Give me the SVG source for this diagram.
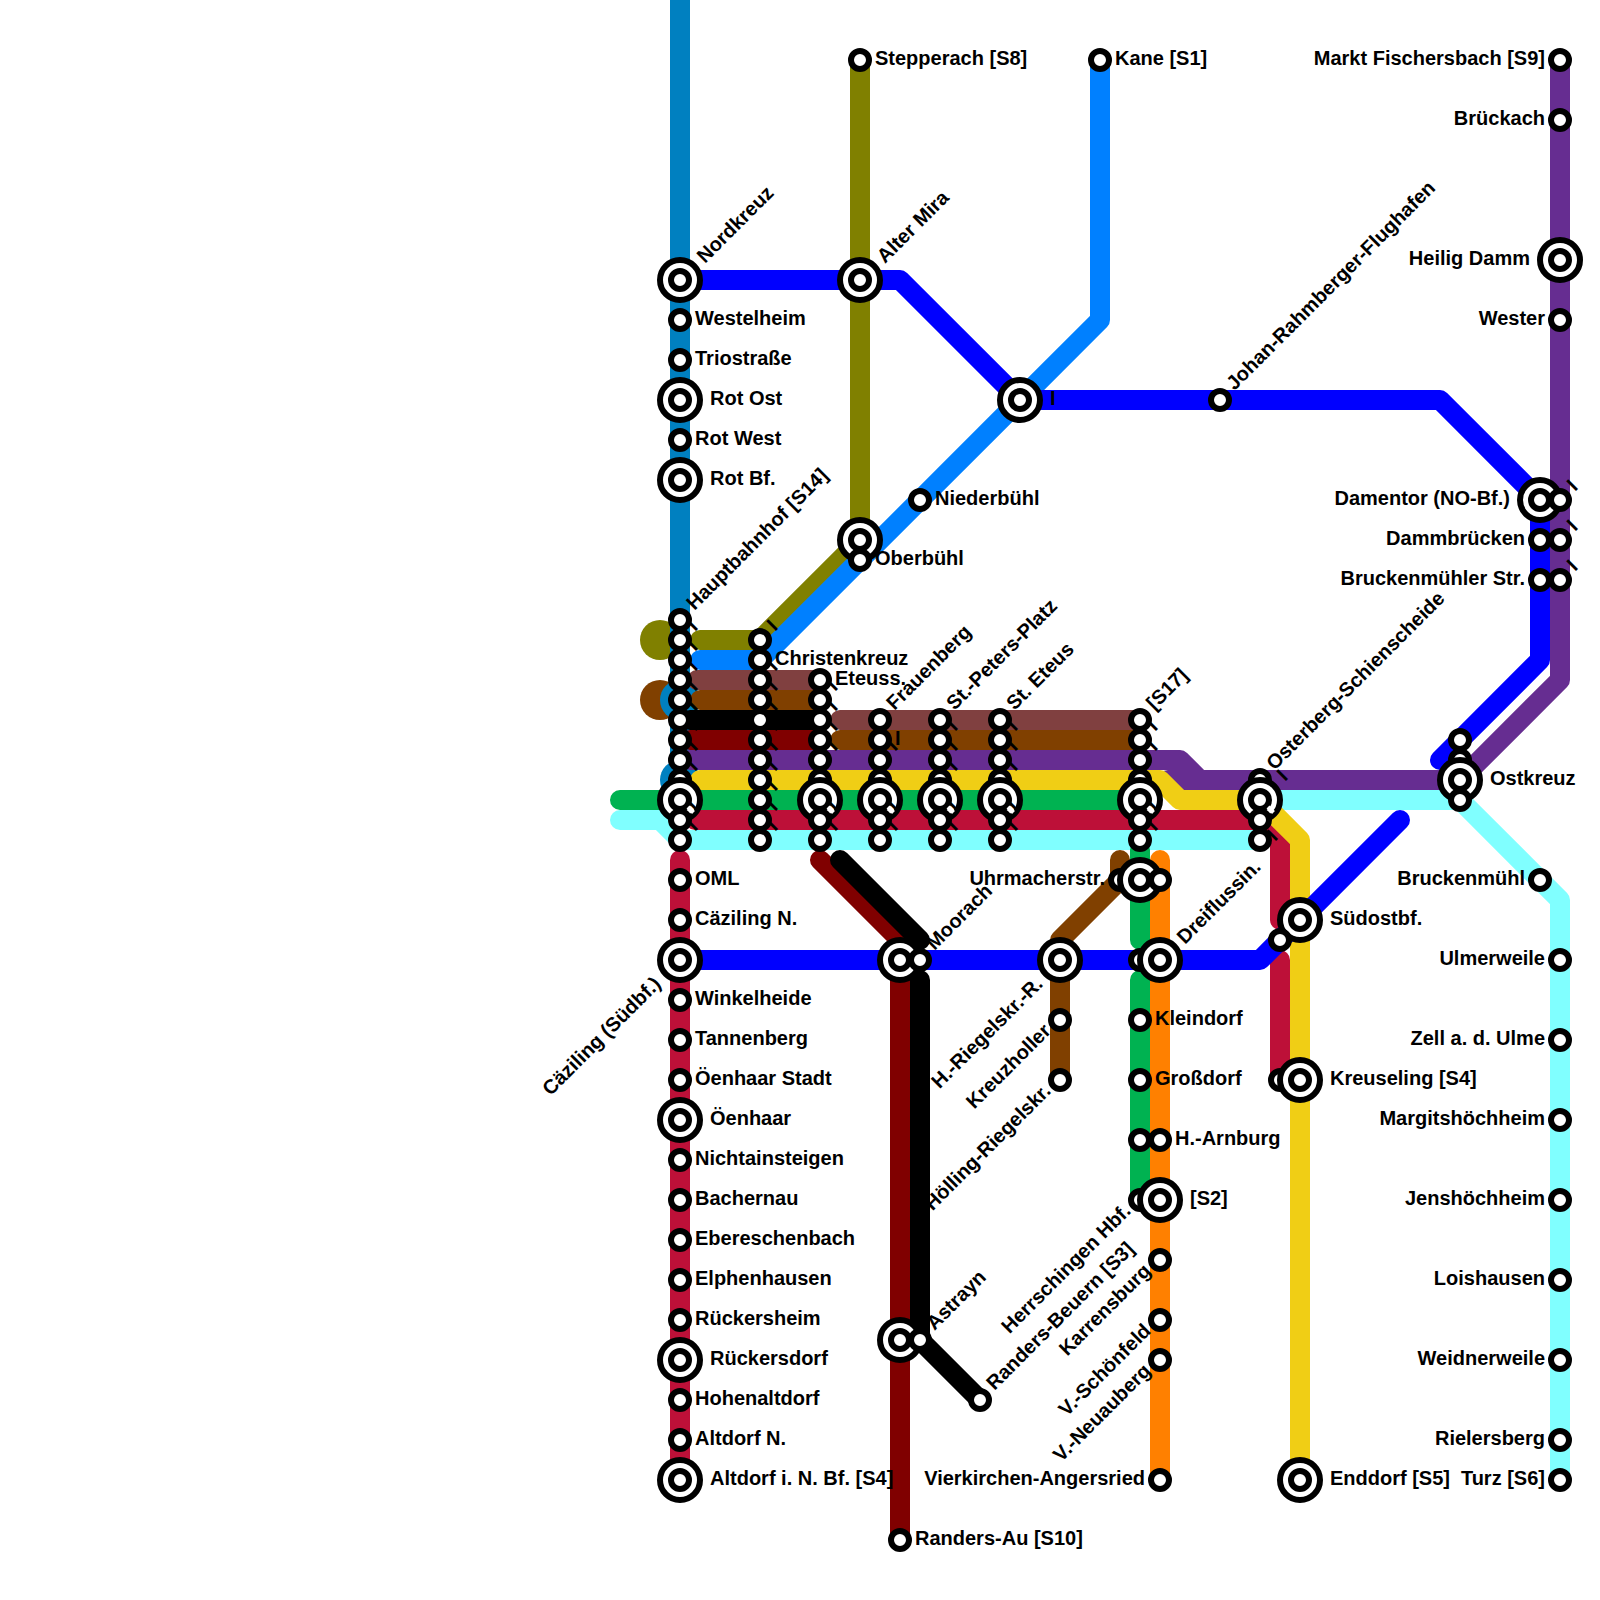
<svg xmlns="http://www.w3.org/2000/svg" width="1600" height="1600" viewBox="0 0 1600 1600">
<style>
text{font-family:"Liberation Sans",Arial,sans-serif;font-weight:bold;font-size:20px;fill:#000}
.e{text-anchor:end}
.s{fill:#fff;stroke:#000;stroke-width:6}
.n{fill:none;stroke:#fff;stroke-width:4}
#lines path{fill:none;stroke-width:20;stroke-linecap:round;stroke-linejoin:round}
</style>
<rect width="1600" height="1600" fill="#fff"/>
<g id="lines">
<circle cx="660" cy="640" r="20" fill="#808000"/>
<circle cx="660" cy="700" r="20" fill="#804000"/>
<path stroke="#0080c0" d="M680-20V780"/>
<circle cx="680" cy="700" r="20" fill="#0080c0"/>
<circle cx="680" cy="780" r="20" fill="#0080c0"/>
<path stroke="#808000" d="M700 640H760L860 540V60"/>
<path stroke="#0080ff" d="M700 660H760L1100 320V60"/>
<path stroke="#804040" d="M697 680H820M840 720H1140"/>
<path stroke="#804000" d="M700 700H820M840 740H1140"/>
<path stroke="#000" d="M690 720H820"/>
<path stroke="#800000" d="M690 740H820"/>
<path stroke="#800000" d="M820 860L900 940V1540"/>
<path stroke="#000" d="M840 860L920 940M920 980V1340L980 1400"/>
<path stroke="#bd1038" d="M680 860V1480"/>
<path stroke="#662d91" d="M690 760H1180L1200 780H1440M1168 780H1200M1560 60V680L1460 780"/>
<path stroke="#bd1038" d="M695 820H1260L1280 840V920M1280 960V1080"/>
<path stroke="#80ffff" d="M620 820H660L680 840H1260M1260 800H1460L1560 900V1480"/>
<path stroke="#00b251" d="M620 800H1140M1140 850V940M1140 980V1200"/>
<path stroke="#f0ce15" d="M700 780H1160L1180 800H1260L1300 840V1480"/>
<path stroke="#ff8000" d="M1160 860V1480"/>
<path stroke="#804000" d="M1120 860V880L1060 940V1080"/>
<path stroke="#0000ff" d="M680 280H900L1020 400H1440L1540 500V660L1440 760"/>
<path stroke="#0000ff" d="M680 960H1260L1400 820"/>
</g>
<g id="nordkreuz"><circle class="s" cx="680" cy="280" r="20"/><circle class="s" cx="680" cy="280" r="9"/><text transform="translate(705,264) rotate(-45)">Nordkreuz</text></g>
<g id="westelheim"><circle class="s" cx="680" cy="320" r="9"/><text x="695" y="325">Westelheim</text></g>
<g id="triostrasse"><circle class="s" cx="680" cy="360" r="9"/><text x="695" y="365">Triostraße</text></g>
<g id="rot-ost"><circle class="s" cx="680" cy="400" r="20"/><circle class="s" cx="680" cy="400" r="9"/><text x="710" y="405">Rot Ost</text></g>
<g id="rot-west"><circle class="s" cx="680" cy="440" r="9"/><text x="695" y="445">Rot West</text></g>
<g id="rot-bf"><circle class="s" cx="680" cy="480" r="20"/><circle class="s" cx="680" cy="480" r="9"/><text x="710" y="485">Rot Bf.</text></g>

<g id="a840"><circle class="s" cx="680" cy="840" r="9"/><text transform="translate(695,832) rotate(-45)">I</text></g>
<g id="a780"><circle class="s" cx="680" cy="780" r="9"/><text transform="translate(695,772) rotate(-45)">I</text></g>
<g id="a800"><circle class="s" cx="680" cy="800" r="20"/><circle class="s" cx="680" cy="800" r="9"/><path class="n" d="M688 807L693.5 812.5"/></g>
<g id="a820"><circle class="s" cx="680" cy="820" r="9"/><text transform="translate(695,812) rotate(-45)">I</text></g>
<g id="a760"><circle class="s" cx="680" cy="760" r="9"/><text transform="translate(695,752) rotate(-45)">I</text></g>
<g id="a740"><circle class="s" cx="680" cy="740" r="9"/><text transform="translate(695,732) rotate(-45)">I</text></g>
<g id="a720"><circle class="s" cx="680" cy="720" r="9"/><text transform="translate(695,712) rotate(-45)">I</text></g>
<g id="a700"><circle class="s" cx="680" cy="700" r="9"/><text transform="translate(695,692) rotate(-45)">I</text></g>
<g id="a680"><circle class="s" cx="680" cy="680" r="9"/><text transform="translate(695,672) rotate(-45)">I</text></g>
<g id="a660"><circle class="s" cx="680" cy="660" r="9"/><text transform="translate(695,652) rotate(-45)">I</text></g>
<g id="a640"><circle class="s" cx="680" cy="640" r="9"/><text transform="translate(695,632) rotate(-45)">I</text></g>
<g id="hauptbahnhof"><circle class="s" cx="680" cy="620" r="9"/><text transform="translate(694.5,611) rotate(-45)">Hauptbahnhof [S14]</text></g>

<g id="oml"><circle class="s" cx="680" cy="880" r="9"/><text x="695" y="885">OML</text></g>
<g id="caeziling-n"><circle class="s" cx="680" cy="920" r="9"/><text x="695" y="925">Cäziling N.</text></g>
<g id="caeziling-suedbf"><circle class="s" cx="680" cy="960" r="20"/><circle class="s" cx="680" cy="960" r="9"/><text class="e" transform="translate(662,985) rotate(-45)">Cäziling (Südbf.)</text></g>
<g id="winkelheide"><circle class="s" cx="680" cy="1000" r="9"/><text x="695" y="1005">Winkelheide</text></g>
<g id="tannenberg"><circle class="s" cx="680" cy="1040" r="9"/><text x="695" y="1045">Tannenberg</text></g>
<g id="oeenhaar-stadt"><circle class="s" cx="680" cy="1080" r="9"/><text x="695" y="1085">Öenhaar Stadt</text></g>
<g id="oeenhaar"><circle class="s" cx="680" cy="1120" r="20"/><circle class="s" cx="680" cy="1120" r="9"/><text x="710" y="1125">Öenhaar</text></g>
<g id="nichtainsteigen"><circle class="s" cx="680" cy="1160" r="9"/><text x="695" y="1165">Nichtainsteigen</text></g>
<g id="bachernau"><circle class="s" cx="680" cy="1200" r="9"/><text x="695" y="1205">Bachernau</text></g>
<g id="ebereschenbach"><circle class="s" cx="680" cy="1240" r="9"/><text x="695" y="1245">Ebereschenbach</text></g>
<g id="elphenhausen"><circle class="s" cx="680" cy="1280" r="9"/><text x="695" y="1285">Elphenhausen</text></g>
<g id="rueckersheim"><circle class="s" cx="680" cy="1320" r="9"/><text x="695" y="1325">Rückersheim</text></g>
<g id="rueckersdorf"><circle class="s" cx="680" cy="1360" r="20"/><circle class="s" cx="680" cy="1360" r="9"/><text x="710" y="1365">Rückersdorf</text></g>
<g id="hohenaltdorf"><circle class="s" cx="680" cy="1400" r="9"/><text x="695" y="1405">Hohenaltdorf</text></g>
<g id="altdorf-n"><circle class="s" cx="680" cy="1440" r="9"/><text x="695" y="1445">Altdorf N.</text></g>
<g id="altdorf-bf"><circle class="s" cx="680" cy="1480" r="20"/><circle class="s" cx="680" cy="1480" r="9"/><text x="710" y="1485">Altdorf i. N. Bf. [S4]</text></g>

<g id="b840"><circle class="s" cx="760" cy="840" r="9"/><text transform="translate(775,832) rotate(-45)">I</text></g>
<g id="b820"><circle class="s" cx="760" cy="820" r="9"/><text transform="translate(775,812) rotate(-45)">I</text></g>
<g id="b800"><circle class="s" cx="760" cy="800" r="9"/><text transform="translate(775,792) rotate(-45)">I</text></g>
<g id="b780"><circle class="s" cx="760" cy="780" r="9"/><text transform="translate(775,772) rotate(-45)">I</text></g>
<g id="b760"><circle class="s" cx="760" cy="760" r="9"/><text transform="translate(775,752) rotate(-45)">I</text></g>
<g id="b740"><circle class="s" cx="760" cy="740" r="9"/><text transform="translate(775,732) rotate(-45)">I</text></g>
<g id="b720"><circle class="s" cx="760" cy="720" r="9"/><text transform="translate(775,712) rotate(-45)">I</text></g>
<g id="b700"><circle class="s" cx="760" cy="700" r="9"/><text transform="translate(775,692) rotate(-45)">I</text></g>
<g id="b680"><circle class="s" cx="760" cy="680" r="9"/><text transform="translate(775,672) rotate(-45)">I</text></g>
<g id="christenkreuz"><circle class="s" cx="760" cy="660" r="9"/><text x="775" y="665">Christenkreuz</text></g>
<g id="b640"><circle class="s" cx="760" cy="640" r="9"/><text transform="translate(775,632) rotate(-45)">I</text></g>

<g id="c840"><circle class="s" cx="820" cy="840" r="9"/><text transform="translate(835,832) rotate(-45)">I</text></g>
<g id="c780"><circle class="s" cx="820" cy="780" r="9"/></g>
<g id="c800"><circle class="s" cx="820" cy="800" r="20"/><circle class="s" cx="820" cy="800" r="9"/><path class="n" d="M828 807L833.5 812.5"/></g>
<g id="c820"><circle class="s" cx="820" cy="820" r="9"/><text transform="translate(835,812) rotate(-45)">I</text></g>
<g id="c760"><circle class="s" cx="820" cy="760" r="9"/><text transform="translate(835,752) rotate(-45)">I</text></g>
<g id="c740"><circle class="s" cx="820" cy="740" r="9"/><text transform="translate(835,732) rotate(-45)">I</text></g>
<g id="c720"><circle class="s" cx="820" cy="720" r="9"/><text transform="translate(835,712) rotate(-45)">I</text></g>
<g id="c700"><circle class="s" cx="820" cy="700" r="9"/><text transform="translate(835,692) rotate(-45)">I</text></g>
<g id="eteuss"><circle class="s" cx="820" cy="680" r="9"/><text x="835" y="685">Eteuss.</text></g>

<g id="d840"><circle class="s" cx="880" cy="840" r="9"/><text transform="translate(895,832) rotate(-45)">I</text></g>
<g id="d780"><circle class="s" cx="880" cy="780" r="9"/></g>
<g id="d800"><circle class="s" cx="880" cy="800" r="20"/><circle class="s" cx="880" cy="800" r="9"/><path class="n" d="M888 807L893.5 812.5"/></g>
<g id="d820"><circle class="s" cx="880" cy="820" r="9"/><text transform="translate(895,812) rotate(-45)">I</text></g>
<g id="d760"><circle class="s" cx="880" cy="760" r="9"/><text transform="translate(895,752) rotate(-45)">I</text></g>
<g id="d740"><circle class="s" cx="880" cy="740" r="9"/><text x="895" y="745">I</text></g>
<g id="frauenberg"><circle class="s" cx="880" cy="720" r="9"/><text transform="translate(894.5,711) rotate(-45)">Frauenberg</text></g>

<g id="e840"><circle class="s" cx="940" cy="840" r="9"/><text transform="translate(955,832) rotate(-45)">I</text></g>
<g id="e780"><circle class="s" cx="940" cy="780" r="9"/><text transform="translate(955,772) rotate(-45)">I</text></g>
<g id="e800"><circle class="s" cx="940" cy="800" r="20"/><circle class="s" cx="940" cy="800" r="9"/><path class="n" d="M948 807L953.5 812.5"/></g>
<g id="e820"><circle class="s" cx="940" cy="820" r="9"/><text transform="translate(955,812) rotate(-45)">I</text></g>
<g id="e760"><circle class="s" cx="940" cy="760" r="9"/><text transform="translate(955,752) rotate(-45)">I</text></g>
<g id="e740"><circle class="s" cx="940" cy="740" r="9"/><text transform="translate(955,732) rotate(-45)">I</text></g>
<g id="st-peters-platz"><circle class="s" cx="940" cy="720" r="9"/><text transform="translate(954.5,711) rotate(-45)">St.-Peters-Platz</text></g>

<g id="f840"><circle class="s" cx="1000" cy="840" r="9"/><text transform="translate(1015,832) rotate(-45)">I</text></g>
<g id="f780"><circle class="s" cx="1000" cy="780" r="9"/><text transform="translate(1015,772) rotate(-45)">I</text></g>
<g id="f800"><circle class="s" cx="1000" cy="800" r="20"/><circle class="s" cx="1000" cy="800" r="9"/><path class="n" d="M1008 807L1013.5 812.5"/></g>
<g id="f820"><circle class="s" cx="1000" cy="820" r="9"/><text transform="translate(1015,812) rotate(-45)">I</text></g>
<g id="f760"><circle class="s" cx="1000" cy="760" r="9"/><text transform="translate(1015,752) rotate(-45)">I</text></g>
<g id="f740"><circle class="s" cx="1000" cy="740" r="9"/><text transform="translate(1015,732) rotate(-45)">I</text></g>
<g id="st-eteus"><circle class="s" cx="1000" cy="720" r="9"/><text transform="translate(1014.5,711) rotate(-45)">St. Eteus</text></g>

<g id="g840"><circle class="s" cx="1140" cy="840" r="9"/><text transform="translate(1155,832) rotate(-45)">I</text></g>
<g id="g780"><circle class="s" cx="1140" cy="780" r="9"/></g>
<g id="g800"><circle class="s" cx="1140" cy="800" r="20"/><circle class="s" cx="1140" cy="800" r="9"/><path class="n" d="M1148 807L1153.5 812.5"/></g>
<g id="g820"><circle class="s" cx="1140" cy="820" r="9"/><text transform="translate(1155,812) rotate(-45)">I</text></g>
<g id="g760"><circle class="s" cx="1140" cy="760" r="9"/><text transform="translate(1155,752) rotate(-45)">I</text></g>
<g id="g740"><circle class="s" cx="1140" cy="740" r="9"/><text transform="translate(1155,732) rotate(-45)">I</text></g>
<g id="s17"><circle class="s" cx="1140" cy="720" r="9"/><text transform="translate(1154.5,711) rotate(-45)">[S17]</text></g>

<g id="h840"><circle class="s" cx="1260" cy="840" r="9"/></g>
<g id="osterberg"><circle class="s" cx="1260" cy="780" r="9"/><text transform="translate(1274.5,771) rotate(-45)">Osterberg-Schienscheide</text></g>
<g id="h800"><circle class="s" cx="1260" cy="800" r="20"/><circle class="s" cx="1260" cy="800" r="9"/><path class="n" d="M1268 807L1273.5 812.5"/><text transform="translate(1285,782) rotate(-45)">I</text></g>
<g id="h820"><circle class="s" cx="1260" cy="820" r="9"/><text transform="translate(1275,842) rotate(-45)">I</text></g>

<g id="uhrmacherstr"><circle class="s" cx="1120" cy="880" r="9"/><circle class="s" cx="1140" cy="880" r="20"/><circle class="s" cx="1140" cy="880" r="9"/><text class="e" x="1105" y="885">Uhrmacherstr.</text></g>
<g id="uhr-b"><circle class="s" cx="1160" cy="880" r="9"/></g>
<g id="moorach-bf"><circle class="s" cx="900" cy="960" r="20"/><circle class="s" cx="900" cy="960" r="9"/></g>
<g id="moorach"><circle class="s" cx="920" cy="960" r="9"/><text transform="translate(934.5,951) rotate(-45)">Moorach</text></g>
<g id="h-riegelskr-r"><circle class="s" cx="1060" cy="960" r="20"/><circle class="s" cx="1060" cy="960" r="9"/><text class="e" transform="translate(1044,985) rotate(-45)">H.-Riegelskr.-R.</text></g>
<g id="kreuzholler"><circle class="s" cx="1060" cy="1020" r="9"/><text class="e" transform="translate(1052,1032) rotate(-45)">Kreuzholler</text></g>
<g id="hoelling"><circle class="s" cx="1060" cy="1080" r="9"/><text class="e" transform="translate(1052,1092) rotate(-45)">Hölling-Riegelskr.</text></g>
<g id="i960"><circle class="s" cx="1140" cy="960" r="9"/></g>
<g id="dreiflussin"><circle class="s" cx="1160" cy="960" r="20"/><circle class="s" cx="1160" cy="960" r="9"/><text transform="translate(1185,945) rotate(-45)">Dreiflussin.</text></g>
<g id="kleindorf"><circle class="s" cx="1140" cy="1020" r="9"/><text x="1155" y="1025">Kleindorf</text></g>
<g id="grossdorf"><circle class="s" cx="1140" cy="1080" r="9"/><text x="1155" y="1085">Großdorf</text></g>
<g id="i1140"><circle class="s" cx="1140" cy="1140" r="9"/></g>
<g id="h-arnburg"><circle class="s" cx="1160" cy="1140" r="9"/><text x="1175" y="1145">H.-Arnburg</text></g>
<g id="herrschingen"><circle class="s" cx="1140" cy="1200" r="9"/><text class="e" transform="translate(1132,1212) rotate(-45)">Herrschingen Hbf.</text></g>
<g id="s2"><circle class="s" cx="1160" cy="1200" r="20"/><circle class="s" cx="1160" cy="1200" r="9"/><text x="1190" y="1205">[S2]</text></g>
<g id="karrensburg"><circle class="s" cx="1160" cy="1260" r="9"/><text class="e" transform="translate(1152,1272) rotate(-45)">Karrensburg</text></g>
<g id="schoenfeld"><circle class="s" cx="1160" cy="1320" r="9"/><text class="e" transform="translate(1152,1332) rotate(-45)">V.-Schönfeld</text></g>
<g id="neuauberg"><circle class="s" cx="1160" cy="1360" r="9"/><text class="e" transform="translate(1152,1372) rotate(-45)">V.-Neuauberg</text></g>
<g id="vierkirchen"><circle class="s" cx="1160" cy="1480" r="9"/><text class="e" x="1145" y="1485">Vierkirchen-Angersried</text></g>
<g id="astrayn-bf"><circle class="s" cx="900" cy="1340" r="20"/><circle class="s" cx="900" cy="1340" r="9"/></g>
<g id="astrayn"><circle class="s" cx="920" cy="1340" r="9"/><text transform="translate(934.5,1331) rotate(-45)">Astrayn</text></g>
<g id="randers-beuern"><circle class="s" cx="980" cy="1400" r="9"/><text transform="translate(994.5,1391) rotate(-45)">Randers-Beuern [S3]</text></g>
<g id="randers-au"><circle class="s" cx="900" cy="1540" r="9"/><text x="915" y="1545">Randers-Au [S10]</text></g>

<g id="stepperach"><circle class="s" cx="860" cy="60" r="9"/><text x="875" y="65">Stepperach [S8]</text></g>
<g id="kane"><circle class="s" cx="1100" cy="60" r="9"/><text x="1115" y="65">Kane [S1]</text></g>
<g id="alter-mira"><circle class="s" cx="860" cy="280" r="20"/><circle class="s" cx="860" cy="280" r="9"/><text transform="translate(885,264) rotate(-45)">Alter Mira</text></g>
<g id="niederbuehl"><circle class="s" cx="920" cy="500" r="9"/><text x="935" y="505">Niederbühl</text></g>
<g id="j540"><circle class="s" cx="860" cy="540" r="20"/><circle class="s" cx="860" cy="540" r="9"/></g>
<g id="oberbuehl"><circle class="s" cx="860" cy="560" r="9"/><text x="875" y="565">Oberbühl</text></g>
<g id="k400"><circle class="s" cx="1020" cy="400" r="20"/><circle class="s" cx="1020" cy="400" r="9"/><text x="1050" y="405">I</text></g>
<g id="johan"><circle class="s" cx="1220" cy="400" r="9"/><text transform="translate(1234.5,391) rotate(-45)">Johan-Rahmberger-Flughafen</text></g>

<g id="l940"><circle class="s" cx="1300" cy="920" r="20"/><circle class="s" cx="1300" cy="920" r="9"/><text x="1330" y="925">Südostbf.</text></g>
<g id="m940"><circle class="s" cx="1280" cy="940" r="9"/></g>
<g id="m1080"><circle class="s" cx="1280" cy="1080" r="9"/></g>
<g id="kreuseling"><circle class="s" cx="1300" cy="1080" r="20"/><circle class="s" cx="1300" cy="1080" r="9"/><text x="1330" y="1085">Kreuseling [S4]</text></g>
<g id="enddorf"><circle class="s" cx="1300" cy="1480" r="20"/><circle class="s" cx="1300" cy="1480" r="9"/><text x="1330" y="1485">Enddorf [S5]</text></g>

<g id="o760"><circle class="s" cx="1460" cy="760" r="9"/></g>
<g id="o740"><circle class="s" cx="1460" cy="740" r="9"/></g>
<g id="ostkreuz"><circle class="s" cx="1460" cy="780" r="20"/><circle class="s" cx="1460" cy="780" r="9"/><text x="1490" y="785">Ostkreuz</text></g>
<g id="o800"><circle class="s" cx="1460" cy="800" r="9"/></g>

<g id="markt"><circle class="s" cx="1560" cy="60" r="9"/><text class="e" x="1545" y="65">Markt Fischersbach [S9]</text></g>
<g id="brueckach"><circle class="s" cx="1560" cy="120" r="9"/><text class="e" x="1545" y="125">Brückach</text></g>
<g id="heilig-damm"><circle class="s" cx="1560" cy="260" r="20"/><circle class="s" cx="1560" cy="260" r="9"/><text class="e" x="1530" y="265">Heilig Damm</text></g>
<g id="wester"><circle class="s" cx="1560" cy="320" r="9"/><text class="e" x="1545" y="325">Wester</text></g>
<g id="damentor"><circle class="s" cx="1540" cy="500" r="20"/><circle class="s" cx="1540" cy="500" r="9"/><text class="e" x="1510" y="505">Damentor (NO-Bf.)</text></g>
<g id="p500"><circle class="s" cx="1560" cy="500" r="9"/><text transform="translate(1575,492) rotate(-45)">I</text></g>
<g id="dammbruecken"><circle class="s" cx="1540" cy="540" r="9"/><text class="e" x="1525" y="545">Dammbrücken</text></g>
<g id="p540"><circle class="s" cx="1560" cy="540" r="9"/><text transform="translate(1575,532) rotate(-45)">I</text></g>
<g id="bruckenmuehler"><circle class="s" cx="1540" cy="580" r="9"/><text class="e" x="1525" y="585">Bruckenmühler Str.</text></g>
<g id="p580"><circle class="s" cx="1560" cy="580" r="9"/><text transform="translate(1575,572) rotate(-45)">I</text></g>
<g id="bruckenmuehl"><circle class="s" cx="1540" cy="880" r="9"/><text class="e" x="1525" y="885">Bruckenmühl</text></g>
<g id="ulmerweile"><circle class="s" cx="1560" cy="960" r="9"/><text class="e" x="1545" y="965">Ulmerweile</text></g>
<g id="zell"><circle class="s" cx="1560" cy="1040" r="9"/><text class="e" x="1545" y="1045">Zell a. d. Ulme</text></g>
<g id="margitshoechheim"><circle class="s" cx="1560" cy="1120" r="9"/><text class="e" x="1545" y="1125">Margitshöchheim</text></g>
<g id="jenshoechheim"><circle class="s" cx="1560" cy="1200" r="9"/><text class="e" x="1545" y="1205">Jenshöchheim</text></g>
<g id="loishausen"><circle class="s" cx="1560" cy="1280" r="9"/><text class="e" x="1545" y="1285">Loishausen</text></g>
<g id="weidnerweile"><circle class="s" cx="1560" cy="1360" r="9"/><text class="e" x="1545" y="1365">Weidnerweile</text></g>
<g id="rielersberg"><circle class="s" cx="1560" cy="1440" r="9"/><text class="e" x="1545" y="1445">Rielersberg</text></g>
<g id="turz"><circle class="s" cx="1560" cy="1480" r="9"/><text class="e" x="1545" y="1485">Turz [S6]</text></g>
</svg>
